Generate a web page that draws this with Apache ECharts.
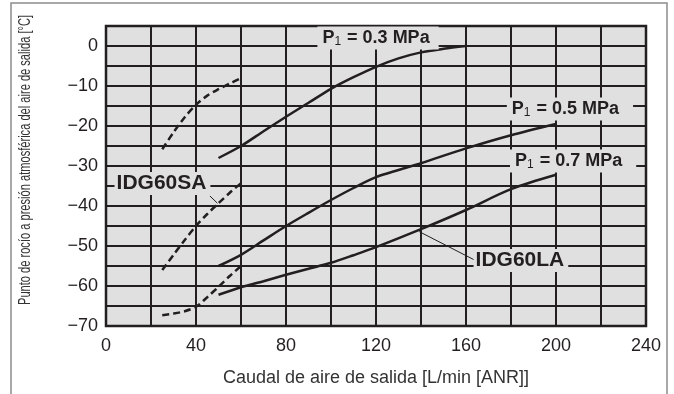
<!DOCTYPE html>
<html>
<head>
<meta charset="utf-8">
<script src="https://cdn.jsdelivr.net/npm/echarts@6/dist/echarts.min.js"></script>
<style>
  html, body { margin: 0; padding: 0; background: #ffffff; }
  #chart { width: 674px; height: 394px; }
</style>
</head>
<body>
<div id="chart"></div>
<script>
// Dew point curves, outlet flow [L/min ANR] vs. dew point [°C]
const idg60la_p03 = [[50,-28],[60,-25],[70,-21.3],[80,-17.7],[90,-14.2],[100,-10.7],[110,-7.8],[120,-5.2],[130,-3.1],[140,-1.6],[150,-0.7],[160,0]];
const idg60la_p05 = [[50,-55],[60,-52.2],[70,-48.6],[80,-45],[90,-41.7],[100,-38.5],[110,-35.5],[120,-32.8],[130,-31],[140,-29.3],[160,-25.6],[180,-22.3],[200,-19.5]];
const idg60la_p07 = [[50,-62.2],[60,-60.3],[70,-58.8],[80,-57.2],[90,-55.7],[100,-54.2],[110,-52.3],[120,-50.3],[140,-45.8],[160,-41],[180,-35.8],[200,-32.2]];
const idg60sa_p03 = [[25,-25.8],[30,-21.6],[35,-17.8],[40,-14.7],[45,-12.4],[50,-10.8],[55,-9.4],[60,-8]];
const idg60sa_p05 = [[25,-56],[30,-52.2],[35,-48.5],[40,-45],[45,-42],[50,-39.3],[55,-36.7],[60,-34.3]];
const idg60sa_p07 = [[25,-67.3],[30,-66.9],[35,-66.3],[40,-65.2],[45,-62.8],[50,-60.2],[55,-57.5],[60,-55]];

const xTicks = [0, 40, 80, 120, 160, 200, 240];
const yTicks = [0, -10, -20, -30, -40, -50, -60, -70];
const pressures = ['0.3', '0.5', '0.7'];
const modelNames = ['IDG60SA', 'IDG60LA'];

const INK = '#231f20';
const PLOT_BG = '#e0e0e0';
const BASE_FONT = '"Liberation Sans", Arial, sans-serif';

const fmtNum = v => (v < 0 ? '\u2212' + (-v) : String(v));

// Text label with grey backing that hides the grid behind it
function tagPoint(coord, text, rich, padding) {
  return {
    coord: coord,
    symbol: 'rect',
    symbolSize: 1,
    itemStyle: { color: 'rgba(0,0,0,0)' },
    label: {
      show: true,
      position: 'inside',
      formatter: text,
      backgroundColor: PLOT_BG,
      padding: padding,
      color: INK,
      fontFamily: BASE_FONT,
      fontWeight: 'bold',
      fontSize: 21,
      rich: rich
    }
  };
}

const pressureRich = {
  p: { fontFamily: BASE_FONT, fontWeight: 'bold', fontSize: 18, color: INK, lineHeight: 19 },
  s: { fontFamily: BASE_FONT, fontWeight: 'normal', fontSize: 12, color: INK, lineHeight: 17, verticalAlign: 'bottom', padding: [0, 1, 0, 0] }
};
const pressureText = p => '{p|P}{s|1}{p| = ' + p + ' MPa}';

const solidStyle = { color: INK, width: 2.5, type: 'solid' };
const dashStyle = { color: INK, width: 2.5, type: [7, 4] };

function curve(data, style, extra) {
  return Object.assign({
    type: 'line',
    data: data,
    smooth: 0.3,
    showSymbol: false,
    symbol: 'none',
    lineStyle: style,
    silent: true,
    z: 3
  }, extra || {});
}

const leader = (a, b) => ({
  silent: true,
  symbol: ['none', 'none'],
  lineStyle: { color: INK, width: 1, type: 'solid' },
  label: { show: false },
  data: [[{ coord: a }, { coord: b }]]
});

const chart = echarts.init(document.getElementById('chart'), null, { renderer: 'canvas' });

// Condensed vertical axis title: measure and squeeze to the target length
const yTitle = 'Punto de rocío a presión atmosférica del aire de salida [°C]';
const measureCtx = document.createElement('canvas').getContext('2d');
measureCtx.font = '17px ' + BASE_FONT;
const yTitleScale = 290 / measureCtx.measureText(yTitle).width;

chart.setOption({
  animation: false,
  grid: {
    left: 106, right: 28, top: 26, bottom: 68,
    show: true,
    backgroundColor: PLOT_BG,
    borderColor: INK,
    borderWidth: 2.5
  },
  xAxis: {
    type: 'value',
    min: 0, max: 240, interval: 20,
    axisLine: { show: false },
    axisTick: { show: false },
    splitLine: { show: true, lineStyle: { color: INK, width: 2 } },
    axisLabel: {
      margin: 11,
      fontSize: 18,
      color: INK,
      fontFamily: BASE_FONT,
      formatter: v => (xTicks.indexOf(v) >= 0 ? fmtNum(v) : '')
    },
    name: 'Caudal de aire de salida [L/min [ANR]]',
    nameLocation: 'middle',
    nameGap: 43,
    nameTextStyle: { fontSize: 18, color: '#333333', fontFamily: BASE_FONT }
  },
  yAxis: {
    type: 'value',
    min: -70, max: 5, interval: 5,
    axisLine: { show: false },
    axisTick: { show: false },
    splitLine: { show: true, lineStyle: { color: INK, width: 2 } },
    axisLabel: {
      margin: 8,
      fontSize: 18,
      color: INK,
      fontFamily: BASE_FONT,
      formatter: v => (yTicks.indexOf(v) >= 0 ? fmtNum(v) : '')
    }
  },
  graphic: [
    {
      type: 'polyline',
      silent: true,
      shape: { points: [[11, 394], [11, 3], [667, 3], [667, 394]] },
      style: { stroke: '#8c8c8c', lineWidth: 1.5, fill: null }
    },
    {
      type: 'text',
      silent: true,
      x: 25, y: 160,
      rotation: Math.PI / 2,
      scaleX: yTitleScale,
      style: {
        text: yTitle,
        font: '17px ' + BASE_FONT,
        fill: '#333333',
        textAlign: 'center',
        textVerticalAlign: 'middle'
      }
    }
  ],
  series: [
    curve(idg60la_p03, solidStyle, {
      markPoint: { silent: true, data: [tagPoint([120.9, 2], pressureText(pressures[0]), pressureRich, [2, 9, 2, 5])] }
    }),
    curve(idg60la_p05, solidStyle, {
      markPoint: { silent: true, data: [tagPoint([206.2, -15.75], pressureText(pressures[1]), pressureRich, [2, 14, 2, 5])] }
    }),
    curve(idg60la_p07, solidStyle, {
      markPoint: { silent: true, data: [
        tagPoint([207.6, -28.75], pressureText(pressures[2]), pressureRich, [2, 14, 2, 5]),
        tagPoint([184.4, -53.6], modelNames[1], null, [1, 4, 1, 2])
      ] },
      markLine: leader([139.2, -46.4], [163.8, -53.5])
    }),
    curve(idg60sa_p03, dashStyle),
    curve(idg60sa_p05, dashStyle, {
      markPoint: { silent: true, data: [tagPoint([25.1, -34.4], modelNames[0], null, [1, 4, 1, 2])] },
      markLine: leader([46.2, -37.5], [49.5, -39.3])
    }),
    curve(idg60sa_p07, dashStyle)
  ]
});
</script>
</body>
</html>
